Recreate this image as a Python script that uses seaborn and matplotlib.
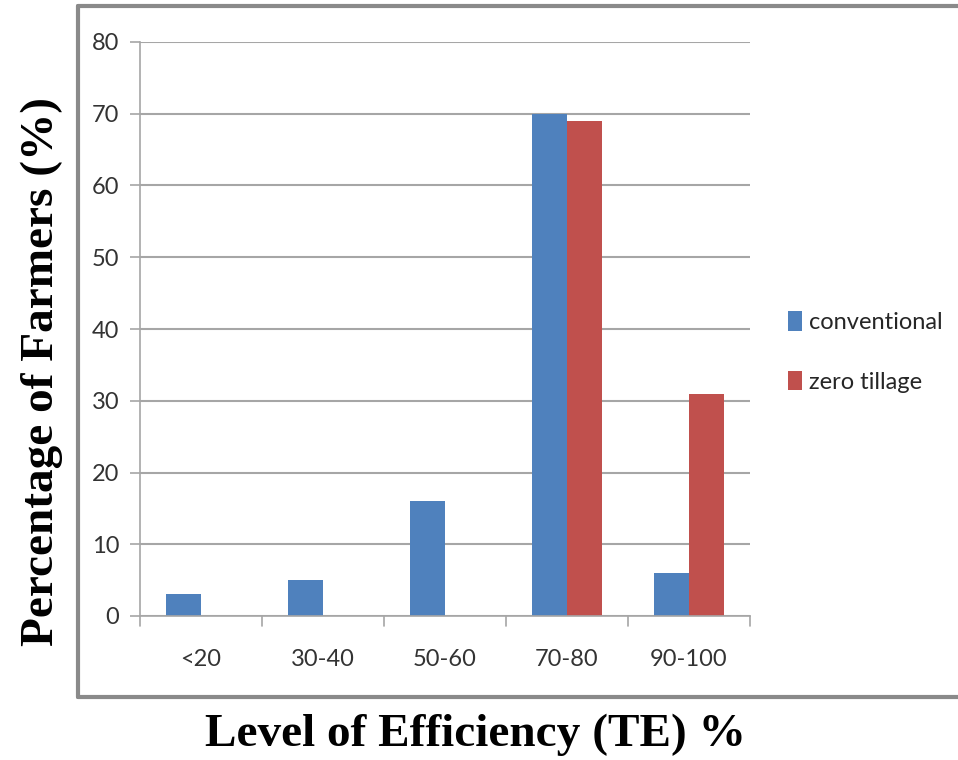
import matplotlib
matplotlib.use("Agg")
import matplotlib.pyplot as plt
from matplotlib.lines import Line2D
import seaborn as sns
import pandas as pd

categories = ["<20", "30-40", "50-60", "70-80", "90-100"]
conventional = [3, 5, 16, 70, 6]
zero_tillage = [0, 0, 0, 69, 31]
series_names = ["conventional", "zero tillage"]
colors = ["#4F81BD", "#C0504D"]

df = pd.DataFrame({
    "cat": categories * 2,
    "val": conventional + zero_tillage,
    "series": [series_names[0]] * len(categories) + [series_names[1]] * len(categories),
})

sns.set_theme(style="white")
tick_font = ["Lato", "DejaVu Sans"]
serif_font = ["Liberation Serif", "DejaVu Serif"]

fig = plt.figure(figsize=(9.58, 7.60), dpi=100)
ax = fig.add_axes([140/958, 1-616/760, 610/958, (616-42)/760])

sns.barplot(data=df, x="cat", y="val", hue="series", palette=colors,
            width=0.58, saturation=1, ax=ax, legend=True, edgecolor="none")

ax.set_ylim(0, 80)
ax.set_yticks(range(0, 81, 10))
ax.set_xlim(-0.5, 4.5)
ax.grid(axis="y", color="#A6A6A6", linewidth=1.5)
ax.set_axisbelow(True)
for s in ["top", "right"]:
    ax.spines[s].set_visible(False)
ax.spines["left"].set_color("#A6A6A6")
ax.spines["bottom"].set_color("#A6A6A6")
ax.spines["left"].set_linewidth(1.2)
ax.spines["bottom"].set_linewidth(1.2)

ax.set_xticks([])
ax.tick_params(axis="y", left=True, length=7, color="#A6A6A6", width=1.2, pad=8)
for t in ax.get_yticklabels():
    t.set_fontfamily(tick_font)
    t.set_fontsize(17)
    t.set_color("#333333")

# category labels and group boundary ticks
for i, c in enumerate(categories):
    ax.text(i, -0.075, c, transform=ax.get_xaxis_transform(), ha="center", va="center",
            fontsize=17, family=tick_font, color="#333333")
for b in range(len(categories) + 1):
    ax.add_line(Line2D([b - 0.5, b - 0.5], [0, -0.018], transform=ax.get_xaxis_transform(),
                       color="#A6A6A6", linewidth=1.2, clip_on=False))

ax.set_xlabel("")
ax.set_ylabel("")

fig.text(42/958, 1-371/760, "Percentage of Farmers (%)", rotation=90, ha="center", va="center",
         fontsize=34, fontweight="bold", family=serif_font, color="black")
fig.text(475/958, 1-735/760, "Level of Efficiency (TE) %", ha="center", va="center",
         fontsize=34, fontweight="bold", family=serif_font, color="black")

handles, labels = ax.get_legend_handles_labels()
ax.legend(handles, labels, loc="center left", bbox_to_anchor=(788/958, 1-352/760),
          bbox_transform=fig.transFigure, frameon=False, handlelength=0.6, handleheight=0.9,
          handletextpad=0.3, labelspacing=1.6, prop={"family": tick_font, "size": 17},
          borderaxespad=0, borderpad=0)

# outer frame
frame_c = "#8A8A8A"
fig.add_artist(Line2D([78/958, 78/958], [1-6/760, 1-697/760], transform=fig.transFigure, color=frame_c, linewidth=3))
fig.add_artist(Line2D([78/958, 1.0], [1-6/760, 1-6/760], transform=fig.transFigure, color=frame_c, linewidth=3))
fig.add_artist(Line2D([78/958, 1.0], [1-697/760, 1-697/760], transform=fig.transFigure, color=frame_c, linewidth=3))

fig.savefig("out.png", dpi=100)
